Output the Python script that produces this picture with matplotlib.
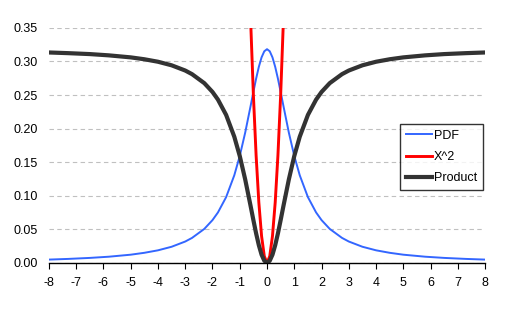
import matplotlib
matplotlib.use('Agg')
import matplotlib.pyplot as plt

# Values (left half, mirrored for the right)
x_half = [8, 7.3, 6.5, 5.8, 5, 4.5, 4, 3.5, 3, 2.75, 2.3, 2, 1.8, 1.5,
          1.2, 1, 0.8, 0.6, 0.5, 0.4, 0.3, 0.2, 0.1]
pdf_half = [0.0049, 0.0059, 0.0074, 0.0092, 0.0122, 0.0150, 0.0187, 0.0240,
            0.0318, 0.0372, 0.0506, 0.0637, 0.0751, 0.0979, 0.1305, 0.1592,
            0.1941, 0.2341, 0.2546, 0.2744, 0.2920, 0.3061, 0.3152]
sq_half = [64, 53.29, 42.25, 33.64, 25, 20.25, 16, 12.25, 9, 7.5625, 5.29,
           4, 3.24, 2.25, 1.44, 1, 0.64, 0.36, 0.25, 0.16, 0.09, 0.04, 0.01]
prod_half = [0.3134, 0.3124, 0.3110, 0.3091, 0.3061, 0.3033, 0.2996, 0.2943,
             0.2865, 0.2811, 0.2677, 0.2546, 0.2432, 0.2204, 0.1879, 0.1592,
             0.1242, 0.0843, 0.0637, 0.0439, 0.0263, 0.0122, 0.0032]

x = [-v for v in x_half] + [0] + x_half[::-1]
pdf = pdf_half + [0.3183] + pdf_half[::-1]
sq = sq_half + [0] + sq_half[::-1]
prod = prod_half + [0] + prod_half[::-1]

x_ticks = list(range(-8, 9))
y_ticks = [0.00, 0.05, 0.10, 0.15, 0.20, 0.25, 0.30, 0.35]

plt.rcParams['font.family'] = ['Liberation Sans', 'DejaVu Sans']
plt.rcParams['axes.unicode_minus'] = False

fig = plt.figure(figsize=(5.2, 3.1), dpi=100)
ax = fig.add_axes([0.094, 0.152, 0.839, 0.758])

ax.plot(x, pdf, color='#3366ff', lw=1.4, label='PDF', zorder=3)
ax.plot(x, sq, color='#ff0000', lw=2.1, label='X^2', zorder=4)
ax.plot(x, prod, color='#333333', lw=3.0, label='Product', zorder=5)

ax.set_xlim(-8, 8)
ax.set_ylim(0, 0.35)
ax.set_xticks(x_ticks)
ax.set_xticklabels([str(t) for t in x_ticks])
ax.set_yticks(y_ticks)
ax.set_yticklabels([f'{v:.2f}' for v in y_ticks])
ax.tick_params(axis='both', labelsize=9, colors='black')
ax.tick_params(axis='y', length=0, pad=8)
ax.tick_params(axis='x', length=4, direction='out', pad=6)
ax.yaxis.grid(True, color='#c0c0c0', linestyle=(0, (4, 3)), lw=0.8)
ax.set_axisbelow(True)
for s in ['left', 'right', 'top']:
    ax.spines[s].set_visible(False)
ax.spines['bottom'].set_color('black')
ax.spines['bottom'].set_linewidth(1.0)
ax.spines['bottom'].set_zorder(6)

leg = ax.legend(loc='upper left', bbox_to_anchor=(400 / 520, 1 - 124 / 310),
                bbox_transform=fig.transFigure, fancybox=False, frameon=True,
                edgecolor='black', fontsize=9, handlelength=2.1,
                handletextpad=0.15, borderpad=0.45, labelspacing=0.75,
                borderaxespad=0)
leg.get_frame().set_linewidth(1.0)

fig.savefig('out.png', dpi=100)
